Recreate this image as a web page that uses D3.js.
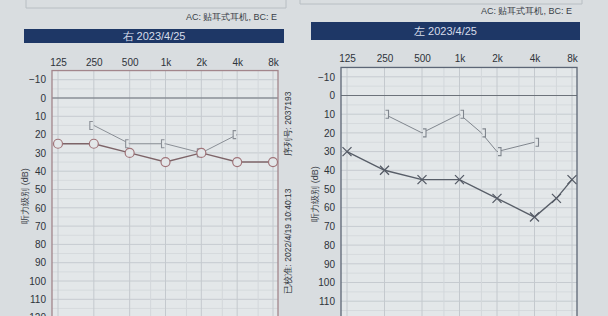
<!DOCTYPE html>
<html>
<head>
<meta charset="utf-8">
<script src="https://cdn.jsdelivr.net/npm/d3@7"></script>
<style>
  body { margin: 0; background: #d9dde0; }
  svg { display: block; font-family: "Liberation Sans", Arial, sans-serif; }
</style>
</head>
<body>
<svg width="608" height="316"></svg>
<script>
// data
var freqLabels = ['125', '250', '500', '1k', '2k', '4k', '8k']
var freqs = [125, 250, 500, 1000, 2000, 4000, 8000]
var midFreqs = [750, 1500, 3000, 6000]
var dbTicks = [-10, 0, 10, 20, 30, 40, 50, 60, 70, 80, 90, 100, 110, 120]

// right ear (left panel)
var rightACFreqs = [125, 250, 500, 1000, 2000, 4000, 8000]
var rightAC = [25, 25, 30, 35, 30, 35, 35]
var rightBCFreqs = [250, 500, 1000, 2000, 4000]
var rightBC = [15, 25, 25, 30, 20]

// left ear (right panel)
var leftACFreqs = [125, 250, 500, 1000, 2000, 4000, 6000, 8000]
var leftAC = [30, 40, 45, 45, 55, 65, 55, 45]
var leftBCFreqs = [250, 500, 1000, 1500, 2000, 4000]
var leftBC = [10, 20, 10, 20, 30, 25]

var svg = d3.select('svg')

function panel(p) {
    var g = svg.append('g')

    // the box above the header
    g.append('path')
        .attr('d', p.boxPath)
        .attr('fill', 'none')
        .attr('stroke', '#b8bec3')
        .attr('stroke-width', 1)

    g.append('text')
        .text('AC: 贴耳式耳机, BC: E')
        .attr('x', p.acX).attr('y', p.acY)
        .attr('text-anchor', 'end')
        .attr('font-size', 9)
        .attr('fill', '#3a3f48')

    // header bar
    g.append('rect')
        .attr('x', p.barX).attr('y', p.barY)
        .attr('width', p.barW).attr('height', p.barH)
        .attr('fill', '#1e3766')
    g.append('text')
        .text(p.title)
        .attr('x', p.barX + p.barW / 2).attr('y', p.barY + p.barH / 2 + 4)
        .attr('text-anchor', 'middle')
        .attr('font-size', 11)
        .attr('fill', '#d6dcea')

    var x = d3.scaleLog().base(2)
                .domain([125, 8000])
                .range([p.x0, p.x1])
    var y = d3.scaleLinear()
                .domain([0, 10])
                .range([p.y0, p.y0 + p.step])

    var left = p.x0 - 6, right = p.x1 + 5, top = y(-15), bottom = y(125)

    g.append('rect')
        .attr('x', left).attr('y', top)
        .attr('width', right - left).attr('height', bottom - top)
        .attr('fill', '#e3e7e9')

    // grid
    var dbFine = d3.range(-10, 125, 5)
    g.selectAll('.hfine').data(dbFine).enter().append('line')
        .attr('x1', left).attr('x2', right)
        .attr('y1', d => y(d)).attr('y2', d => y(d))
        .attr('stroke', d => d % 10 === 0 ? '#c6cbd0' : '#d6dadd')
        .attr('stroke-width', 1)
    g.selectAll('.vmid').data(midFreqs).enter().append('line')
        .attr('x1', d => x(d)).attr('x2', d => x(d))
        .attr('y1', top).attr('y2', bottom)
        .attr('stroke', '#d3d7db')
    g.selectAll('.vmain').data(freqs).enter().append('line')
        .attr('x1', d => x(d)).attr('x2', d => x(d))
        .attr('y1', top).attr('y2', bottom)
        .attr('stroke', '#c4c9ce')
    g.append('line')
        .attr('x1', left).attr('x2', right)
        .attr('y1', y(0)).attr('y2', y(0))
        .attr('stroke', '#6c727a').attr('stroke-width', 1.2)

    // frame
    g.append('rect')
        .attr('x', left).attr('y', top)
        .attr('width', right - left).attr('height', bottom - top)
        .attr('fill', 'none')
        .attr('stroke', p.frame).attr('stroke-width', 1.3)

    // axes
    var xAxis = d3.axisTop(x)
                .tickValues(freqs)
                .tickFormat((d, i) => freqLabels[i])
                .tickSize(0)
    g.append('g')
        .attr('transform', 'translate(0,' + (top - 2) + ')')
        .call(xAxis)
        .call(a => a.select('.domain').remove())
        .selectAll('text')
            .attr('font-size', 10)
            .attr('fill', '#2e333a')
            .attr('font-family', 'Liberation Sans, Arial, sans-serif')

    var yAxis = d3.axisLeft(y)
                .tickValues(dbTicks)
                .tickSize(0)
    g.append('g')
        .attr('transform', 'translate(' + (left - 3) + ',0)')
        .call(yAxis)
        .call(a => a.select('.domain').remove())
        .selectAll('text')
            .attr('font-size', 10)
            .attr('fill', '#2e333a')
            .attr('font-family', 'Liberation Sans, Arial, sans-serif')

    g.append('text')
        .text('听力级别 (dB)')
        .attr('transform', 'translate(' + p.yTitleX + ',' + p.yTitleY + ') rotate(-90)')
        .attr('text-anchor', 'middle')
        .attr('font-size', 9)
        .attr('fill', '#3a3f48')

    var line = d3.line()
                .x(d => x(d[0]))
                .y(d => y(d[1]))

    // bone conduction
    var bc = p.bcF.map((f, i) => [f, p.bc[i]])
    g.append('path')
        .attr('d', line(bc))
        .attr('fill', 'none')
        .attr('stroke', p.bcColor)
        .attr('stroke-width', 1)
    g.selectAll('.bc').data(bc).enter().append('path')
        .attr('d', d => {
            var cx = x(d[0]) + p.bcShift, cy = y(d[1])
            var s = p.bcDir
            return 'M' + (cx + 3 * s) + ',' + (cy - 4) + 'H' + cx + 'V' + (cy + 4) + 'H' + (cx + 3 * s)
        })
        .attr('fill', '#e3e7e9')
        .attr('stroke', p.bcColor)
        .attr('stroke-width', 1.1)

    // air conduction
    var ac = p.acF.map((f, i) => [f, p.ac[i]])
    g.append('path')
        .attr('d', line(ac))
        .attr('fill', 'none')
        .attr('stroke', p.acColor)
        .attr('stroke-width', 1.4)
    if (p.marker === 'o') {
        g.selectAll('.ac').data(ac).enter().append('circle')
            .attr('cx', d => x(d[0])).attr('cy', d => y(d[1]))
            .attr('r', 4.5)
            .attr('fill', '#e3e7e9')
            .attr('stroke', p.markColor)
            .attr('stroke-width', 1.2)
    } else {
        g.selectAll('.ac').data(ac).enter().append('path')
            .attr('d', d => {
                var cx = x(d[0]), cy = y(d[1]), r = 4.5
                return 'M' + (cx - r) + ',' + (cy - r) + 'L' + (cx + r) + ',' + (cy + r) +
                       'M' + (cx - r) + ',' + (cy + r) + 'L' + (cx + r) + ',' + (cy - r)
            })
            .attr('stroke', p.markColor)
            .attr('stroke-width', 1.3)
    }

    // side notes
    if (p.notes) {
        g.append('text')
            .text('序列号: 2037193')
            .attr('transform', 'translate(291,124) rotate(-90)')
            .attr('text-anchor', 'middle')
            .attr('font-size', 8.5)
            .attr('fill', '#2e333a')
        g.append('text')
            .text('已校准: 2022/4/19 10:40:13')
            .attr('transform', 'translate(291,241) rotate(-90)')
            .attr('text-anchor', 'middle')
            .attr('font-size', 8.5)
            .attr('fill', '#2e333a')
    }
}

panel({
    title: '右 2023/4/25',
    boxPath: 'M26,0V8H286V0',
    acX: 277, acY: 20,
    barX: 24, barY: 29, barW: 260, barH: 14,
    x0: 58, x1: 273, y0: 98, step: 18.3,
    frame: '#a3868c',
    yTitleX: 28, yTitleY: 196,
    acF: rightACFreqs, ac: rightAC,
    bcF: rightBCFreqs, bc: rightBC,
    acColor: '#7d6468', markColor: '#a07479', bcColor: '#8a8f96',
    bcShift: -4, bcDir: 1,
    marker: 'o', notes: true
})

panel({
    title: '左 2023/4/25',
    boxPath: 'M300,0V4H582V0',
    acX: 572, acY: 14,
    barX: 311, barY: 22, barW: 269, barH: 18,
    x0: 347, x1: 572, y0: 95.5, step: 18.7,
    frame: '#5d6676',
    yTitleX: 318, yTitleY: 194,
    acF: leftACFreqs, ac: leftAC,
    bcF: leftBCFreqs, bc: leftBC,
    acColor: '#585e68', markColor: '#555b66', bcColor: '#80868e',
    bcShift: 4, bcDir: -1,
    marker: 'x', notes: false
})
</script>
</body>
</html>
